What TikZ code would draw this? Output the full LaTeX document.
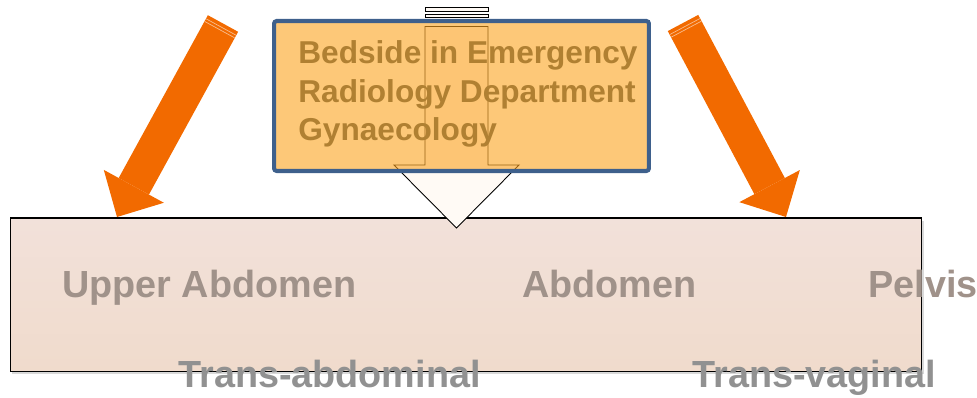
\documentclass[tikz,border=0pt]{standalone}
\usepackage{fontspec}
\setmainfont{Liberation Sans}
\usetikzlibrary{arrows.meta,calc,shadows}

\definecolor{fatorange}{RGB}{242,106,0}
\definecolor{boxorange}{RGB}{252,163,30}
\definecolor{boxblue}{RGB}{62,96,140}
\definecolor{sitetext}{RGB}{176,128,50}
\definecolor{regiontop}{RGB}{242,225,218}
\definecolor{regionbot}{RGB}{240,219,204}
\definecolor{organgray}{RGB}{160,146,138}
\definecolor{probegray}{RGB}{145,145,145}

\begin{document}
\begin{tikzpicture}[
  x=0.02cm, y=-0.02cm,
  region/.style={draw, line width=0.6pt, top color=regiontop, bottom color=regionbot, minimum width=18.24cm, minimum height=3.07cm, drop shadow={shadow xshift=1pt, shadow yshift=-1.5pt, opacity=0.3}},
  sitebox/.style={draw=boxblue, line width=2.3pt, rounded corners=1.5pt, fill=boxorange, fill opacity=0.6, minimum width=7.5cm, minimum height=3cm},
  sitelist/.style={align=left, inner sep=0pt, text=sitetext, font=\fontsize{18}{21.9}\selectfont\bfseries},
  organ/.style={inner sep=0pt, text=organgray, font=\fontsize{21.5}{25}\selectfont\bfseries},
  probe/.style={inner sep=0pt, text=probegray, font=\fontsize{21.5}{25}\selectfont\bfseries},
  fat/.style={fatorange, line width=0.69cm, -{Triangle[length=0.7cm, width=1.37cm, line width=0pt]}},
  stripe/.style={white!55!fatorange, line width=0.4pt},
  hollow/.style={draw, line width=0.5pt, fill=white!96!orange}
]
  \useasboundingbox (0,0) rectangle (977,398);

  % scanned region and probes
  \node[region] (region) at (466,294.75) {};
  \node[organ, anchor=base west] (upper) at (62,298) {Upper Abdomen};
  \node[organ, anchor=base west] (abdomen) at (522,298) {Abdomen};
  \node[organ, anchor=base west] (pelvis) at (868,298) {Pelvis};
  \node[probe, anchor=base west] (transabd) at (178,388) {Trans-abdominal};
  \node[probe, anchor=base west] (transvag) at (692,388) {Trans-vaginal};

  % striped block arrow, seen through the box
  \coordinate (drop) at (456.5,228);
  \draw[hollow] (425,7) rectangle (488,11.5);
  \draw[hollow] (425,14) rectangle (488,17.5);
  \draw[hollow] (425,26.5) -- (488,26.5) -- (488,165) -- (519,165) -- (drop) -- (394,165) -- (425,165) -- cycle;

  \node[sitebox] (sites) at (461.5,96) {};
  \node[sitelist, anchor=base west] (sitenames) at (298,140.5) {Bedside in Emergency\\Radiology Department\\Gynaecology};

  % fat orange arrows
  \coordinate (lefttail) at (223,23.5);
  \coordinate (lefttip) at (117,217);
  \coordinate (righttail) at (683,23);
  \coordinate (righttip) at (786,217);
  \draw[fat] (lefttail) -- (lefttip);
  \draw[fat] (righttail) -- (righttip);
  \foreach \t/\h in {lefttail/lefttip, righttail/righttip}
    \foreach \d in {0.08,0.14} {
      \path ($(\t)!\d cm!(\h)$) coordinate (s);
      \draw[stripe] ($(s)!0.34cm!90:(\h)$) -- ($(s)!0.34cm!-90:(\h)$);
    }
\end{tikzpicture}
\end{document}
